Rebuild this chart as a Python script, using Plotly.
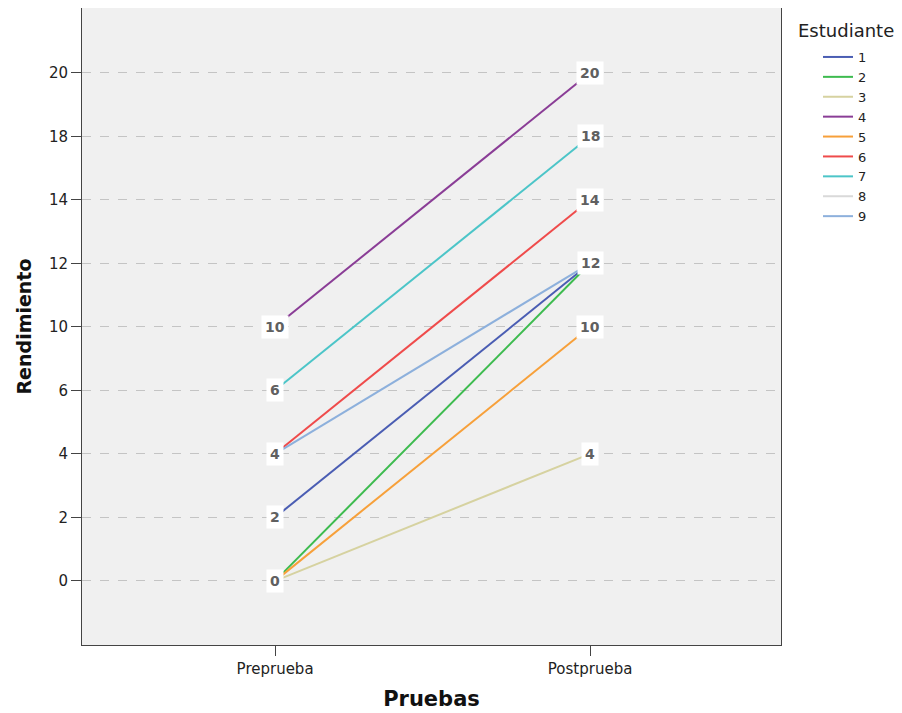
import plotly.graph_objects as go

pruebas = ["Preprueba", "Postprueba"]
estudiantes = ["1", "2", "3", "4", "5", "6", "7", "8", "9"]
preprueba = [2, 0, 0, 10, 0, 4, 6, None, 4]
postprueba = [12, 12, 4, 20, 10, 14, 18, None, 12]
niveles = ["0", "2", "4", "6", "10", "12", "14", "18", "20"]
colores = ["#4a5db3", "#3dbb4f", "#d6d2a0", "#8a3d96", "#f7a03a",
           "#ef4b4b", "#4cc5c8", "#d9d9d9", "#8db0dc"]

FONT = "DejaVu Sans, Verdana, sans-serif"
# page body has an 8px default margin: compensate so the chart lands like the reference
OFF = 8
L, T, R, B = 82 - OFF, 8 - OFF, 781 - OFF, 645 - OFF
W, H = 902, 713
PW, PH = R - L, B - T

fig = go.Figure()
for est, pre, post, col in zip(estudiantes, preprueba, postprueba, colores):
    ys = [None if v is None else str(v) for v in (pre, post)]
    fig.add_trace(go.Scatter(
        x=pruebas, y=ys, mode="lines", name=est,
        line=dict(color=col, width=2), connectgaps=False,
    ))

# point labels (distinct values at each test)
for xi, vals in enumerate((preprueba, postprueba)):
    for v in sorted(set(v for v in vals if v is not None)):
        fig.add_annotation(
            x=xi, y=niveles.index(str(v)), text="<b>%d</b>" % v, showarrow=False,
            font=dict(family=FONT, size=14, color="#606060"),
            bgcolor="white", borderpad=3,
        )

fig.add_annotation(
    xref="paper", yref="paper", x=(796 - OFF - L) / PW, y=1 - (30 - OFF - T) / PH,
    xanchor="left", yanchor="middle", text="Estudiante", showarrow=False,
    font=dict(family=FONT, size=18, color="#222"),
)

fig.update_layout(
    width=W, height=H,
    margin=dict(l=L, r=W - R, t=T, b=H - B, autoexpand=False),
    paper_bgcolor="white", plot_bgcolor="#f0f0f0",
    font=dict(family=FONT, size=14, color="#222"),
    showlegend=True,
    legend=dict(
        x=(818 - OFF - L) / PW, xanchor="left", y=1 - (42 - OFF - T) / PH, yanchor="top",
        font=dict(family=FONT, size=13, color="#222"), tracegroupgap=0,
        bgcolor="rgba(0,0,0,0)",
    ),
    xaxis=dict(
        type="category", categoryarray=pruebas, range=[-0.613, 1.606],
        showgrid=False, zeroline=False, showline=True, linecolor="#444",
        linewidth=1, mirror=True, ticks="outside", ticklen=10, tickcolor="#444",
        tickfont=dict(family=FONT, size=15, color="#222"),
        title=dict(text="<b>Pruebas</b>", font=dict(family=FONT, size=21, color="#111"), standoff=14),
    ),
    yaxis=dict(
        type="category", categoryorder="array", categoryarray=niveles,
        range=[-1.01, 9.02], showgrid=True, gridcolor="#c4c4c4", griddash="dash",
        gridwidth=1, zeroline=False, showline=True, linecolor="#444",
        linewidth=1, mirror=True, ticks="outside", ticklen=10, tickcolor="#444",
        tickfont=dict(family=FONT, size=15, color="#222"),
        title=dict(text="<b>Rendimiento</b>", font=dict(family=FONT, size=19, color="#111"), standoff=12),
    ),
)

fig.write_html("out.html")
